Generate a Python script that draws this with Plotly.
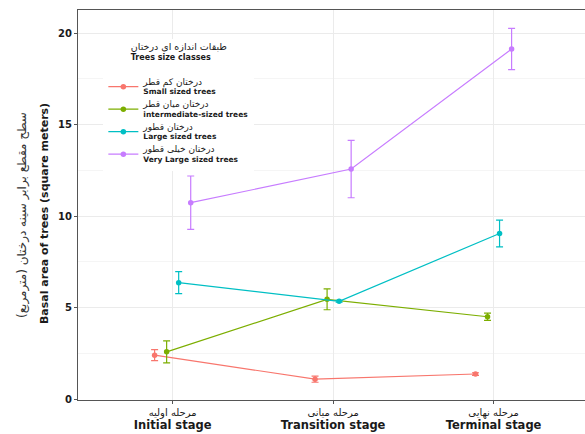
import plotly.graph_objects as go

stages = ["Initial", "Transition", "Terminal"]
stage_fa = ["مرحله اولیه", "مرحله میانی", "مرحله نهایی"]
stage_en = ["Initial stage", "Transition stage", "Terminal stage"]
series_fa = ["درختان کم قطر", "درختان میان قطر", "درختان قطور", "درختان خیلی قطور"]
series_en = ["Small sized trees", "intermediate-sized trees",
             "Large sized trees", "Very Large sized trees"]
colors = ["#F8766D", "#7CAE00", "#00BFC4", "#C77CFF"]

small = [2.40, 1.09, 1.37]
small_err = [0.30, 0.17, 0.07]
inter = [2.58, 5.45, 4.50]
inter_err = [0.60, 0.57, 0.20]
large = [6.36, 5.34, 9.05]
large_err = [0.60, 0.05, 0.73]
vlarge = [10.73, 12.57, 19.13]
vlarge_err = [1.46, 1.57, 1.13]

values = [small, inter, large, vlarge]
errors = [small_err, inter_err, large_err, vlarge_err]
dodge = [-0.1125, -0.0375, 0.0375, 0.1125]

stage_labels = [f"{fa}<br><span style='font-size:11.5px'><b>{en}</b></span>"
                for fa, en in zip(stage_fa, stage_en)]
series_names = [f"<span style='font-size:9px'>{fa}</span><br><b>{en}</b>"
                for fa, en in zip(series_fa, series_en)]

fig = go.Figure()
for name, col, v, e, d in zip(series_names, colors, values, errors, dodge):
    xs = [i + 1 + d for i in range(len(stages))]
    fig.add_trace(go.Scatter(
        x=xs, y=v, name=name, mode="lines+markers",
        line=dict(color=col, width=1.2),
        marker=dict(color=col, size=5.5),
        error_y=dict(type="data", array=e, visible=True, color=col,
                     thickness=1.2, width=3.5),
    ))

fig.update_layout(
    width=585, height=434,
    margin=dict(l=78, r=0, t=10, b=34),
    paper_bgcolor="white", plot_bgcolor="white",
    font=dict(family="DejaVu Sans", color="#1a1a1a"),
    legend=dict(
        title=dict(text="<span style='font-size:9.5px'>طبقات اندازه ای درختان</span><br><b>Trees size classes</b><br><span style='font-size:5px'> </span>",
                   font=dict(size=8), side="top center"),
        x=0.05, y=0.925, xanchor="left", yanchor="top",
        bgcolor="white", font=dict(size=7.5), tracegroupgap=0,
        itemwidth=30,
    ),
    showlegend=True,
    annotations=[
        dict(text="سطح مقطع برابر سینه درختان (مترمربع)",
             xref="paper", yref="paper", x=-0.108, y=0.475,
             xanchor="center", yanchor="middle", textangle=-90,
             showarrow=False, font=dict(size=12, color="#333333")),
        dict(text="<b>Basal area of trees (square meters)</b>",
             xref="paper", yref="paper", x=-0.065, y=0.477,
             xanchor="center", yanchor="middle", textangle=-90,
             showarrow=False, font=dict(size=11, color="#1a1a1a")),
    ],
)
fig.update_xaxes(
    range=[0.41, 3.57], tickmode="array", tickvals=[1, 2, 3],
    ticktext=stage_labels, tickfont=dict(size=10), automargin=False,
    showgrid=True, gridcolor="#EBEBEB", gridwidth=1,
    showline=True, linecolor="#555555", linewidth=1.2, mirror=True,
    ticks="outside", ticklen=3, tickcolor="#555555", zeroline=False,
)
fig.update_yaxes(
    range=[-0.05, 21.26], tickvals=[0, 5, 10, 15, 20],
    ticktext=["<b>0</b>", "<b>5</b>", "<b>10</b>", "<b>15</b>", "<b>20</b>"],
    tickfont=dict(size=10), automargin=False,
    showgrid=True, gridcolor="#EBEBEB", gridwidth=1,
    minor=dict(tickvals=[2.5, 7.5, 12.5, 17.5], showgrid=True,
               gridcolor="#F5F5F5", gridwidth=1),
    showline=True, linecolor="#555555", linewidth=1.2, mirror=True,
    ticks="outside", ticklen=3, tickcolor="#555555", zeroline=False,
)
fig.write_html("out.html", config={"displayModeBar": False},
               post_script="document.body.style.margin='0';")
